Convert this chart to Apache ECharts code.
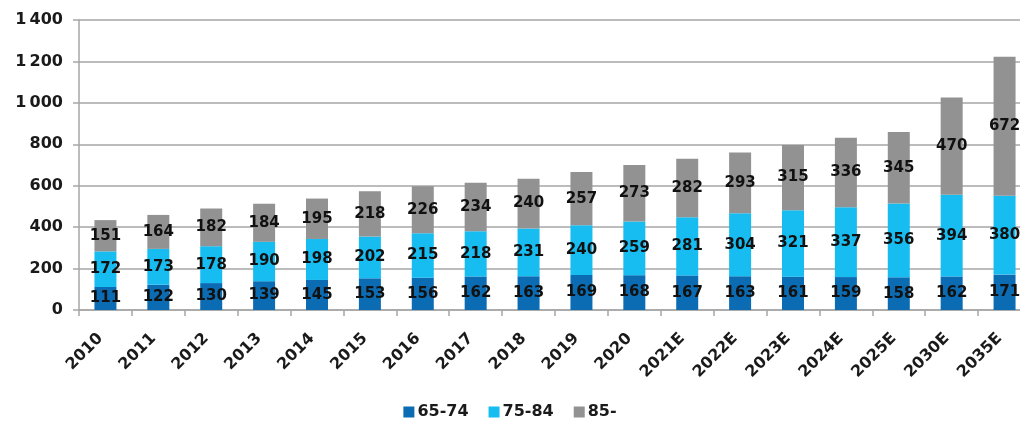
<!DOCTYPE html>
<html>
<head>
<meta charset="utf-8">
<script src="https://cdn.jsdelivr.net/npm/echarts@6/dist/echarts.min.js"></script>
<style>
  html, body { margin: 0; padding: 0; background: #fff; }
  #chart { width: 1020px; height: 423px; }
</style>
</head>
<body>
<div id="chart"></div>
<script>
// Years (E = estimate)
const categories = ['2010','2011','2012','2013','2014','2015','2016','2017','2018','2019','2020','2021E','2022E','2023E','2024E','2025E','2030E','2035E'];

// Population by age band (thousands)
const age65to74 = [111,122,130,139,145,153,156,162,163,169,168,167,163,161,159,158,162,171];
const age75to84 = [172,173,178,190,198,202,215,218,231,240,259,281,304,321,337,356,394,380];
const age85plus = [151,164,182,184,195,218,226,234,240,257,273,282,293,315,336,345,470,672];

const seriesNames = ['65-74', '75-84', '85-'];
const seriesColors = ['#0b6cb3', '#17bdf0', '#929292'];

const FONT = 'DejaVu Sans';

function makeSeries(name, data, color) {
  return {
    name: name,
    type: 'bar',
    stack: 'total',
    data: data,
    barWidth: 22,
    itemStyle: { color: color },
    label: {
      show: true,
      position: 'inside',
      color: '#111111',
      fontFamily: FONT,
      fontSize: 15,
      fontWeight: 'bold'
    }
  };
}

const chart = echarts.init(document.getElementById('chart'), null, { renderer: 'canvas' });
chart.setOption({
  animation: false,
  backgroundColor: '#ffffff',
  grid: { left: 79, top: 20, width: 952, height: 290, containLabel: false, outerBoundsMode: 'none' },
  legend: {
    bottom: -2,
    left: 'center',
    itemWidth: 11,
    itemHeight: 11,
    itemGap: 20,
    icon: 'rect',
    textStyle: { fontFamily: FONT, fontSize: 16, fontWeight: 'bold', color: '#1a1a1a', padding: [0, 0, 0, -2] },
    data: seriesNames
  },
  xAxis: {
    type: 'category',
    data: categories,
    axisLine: { lineStyle: { color: '#a6a6a6', width: 1.5 } },
    axisTick: { show: true, length: 6, lineStyle: { color: '#a6a6a6', width: 1.5 } },
    axisLabel: {
      rotate: 45,
      margin: 21,
      padding: [0, 7, 0, 0],
      fontFamily: FONT,
      fontSize: 16,
      fontWeight: 'bold',
      color: '#1a1a1a'
    }
  },
  yAxis: {
    type: 'value',
    min: 0,
    max: 1400,
    interval: 200,
    axisLine: { show: true, lineStyle: { color: '#a6a6a6', width: 1.5 } },
    axisTick: { show: true, length: 6, inside: false, lineStyle: { color: '#a6a6a6', width: 1.5 } },
    splitLine: { lineStyle: { color: '#a6a6a6', width: 1.5 } },
    axisLabel: {
      margin: 16,
      fontFamily: FONT,
      fontSize: 16,
      fontWeight: 'bold',
      color: '#1a1a1a',
      formatter: function (v) {
        return String(v).replace(/\B(?=(\d{3})+(?!\d))/g, '\u2009');
      }
    }
  },
  series: [
    makeSeries(seriesNames[0], age65to74, seriesColors[0]),
    makeSeries(seriesNames[1], age75to84, seriesColors[1]),
    makeSeries(seriesNames[2], age85plus, seriesColors[2])
  ]
});
</script>
</body>
</html>
